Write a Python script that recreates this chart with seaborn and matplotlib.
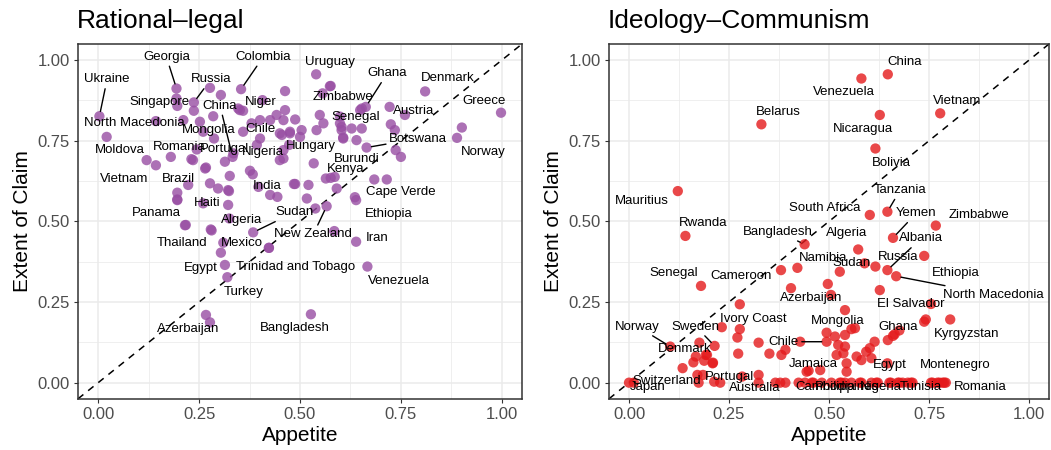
import matplotlib
matplotlib.use("Agg")
import matplotlib.pyplot as plt
from matplotlib.ticker import MultipleLocator, FormatStrFormatter
from matplotlib.transforms import ScaledTranslation
import pandas as pd
import seaborn as sns

# ---------------- Rational-legal legitimation ----------------
rl_countries = [
    "Ukraine", "Georgia", "Colombia", "Russia", "Uruguay", "Ghana", "Denmark",
    "Greece", "Zimbabwe", "Senegal", "Austria", "Botswana", "Norway", "Hungary",
    "Burundi", "Kenya", "Cape Verde", "Ethiopia", "Iran", "Venezuela",
    "Bangladesh", "New Zealand", "Sudan", "Algeria", "Mexico", "Thailand",
    "Egypt", "Turkey", "Trinidad and Tobago", "Azerbaijan", "Panama", "Haiti",
    "India", "Brazil", "Vietnam", "Moldova", "Romania", "Portugal", "Nigeria",
    "Mongolia", "Chile", "Niger", "China", "Singapore", "North Macedonia",
]
rl_appetite = [
    0.003, 0.194, 0.354, 0.237, 0.540, 0.663, 0.810,
    0.998, 0.576, 0.599, 0.760, 0.665, 0.889, 0.473,
    0.586, 0.564, 0.684, 0.639, 0.639, 0.667,
    0.527, 0.566, 0.384, 0.325, 0.310, 0.279,
    0.314, 0.320, 0.423, 0.277, 0.217, 0.260,
    0.397, 0.223, 0.120, 0.021, 0.180, 0.314, 0.376,
    0.260, 0.401, 0.407, 0.333, 0.196, 0.143,
]
rl_claim = [
    0.826, 0.912, 0.910, 0.869, 0.956, 0.855, 0.903,
    0.837, 0.920, 0.825, 0.830, 0.729, 0.759, 0.737,
    0.638, 0.633, 0.630, 0.566, 0.437, 0.360,
    0.212, 0.547, 0.466, 0.509, 0.434, 0.475,
    0.365, 0.327, 0.418, 0.187, 0.489, 0.556,
    0.607, 0.613, 0.690, 0.762, 0.700, 0.685, 0.657,
    0.778, 0.814, 0.876, 0.700, 0.858, 0.811,
]
# countries drawn without a text label
rl_other_appetite = [
    0.277, 0.304, 0.463, 0.194, 0.237, 0.285, 0.252, 0.211, 0.347, 0.359,
    0.463, 0.380, 0.426, 0.442, 0.459, 0.475, 0.455, 0.287, 0.359, 0.244,
    0.143, 0.231, 0.267, 0.326, 0.393, 0.383, 0.277, 0.297, 0.322, 0.324,
    0.426, 0.444, 0.485, 0.196, 0.196, 0.322, 0.459, 0.574, 0.351, 0.488,
    0.549, 0.558, 0.541, 0.603, 0.649, 0.722, 0.725, 0.735, 0.653, 0.628,
    0.607, 0.640, 0.737, 0.750, 0.901, 0.475, 0.504, 0.450, 0.401, 0.459,
    0.450, 0.534, 0.335, 0.235, 0.265, 0.488, 0.521, 0.576, 0.591, 0.517,
    0.636, 0.715, 0.538, 0.585, 0.556, 0.500, 0.599, 0.603, 0.607, 0.653,
    0.215, 0.281, 0.304, 0.267, 0.196, 0.423,
]
rl_other_claim = [
    0.914, 0.892, 0.904, 0.881, 0.843, 0.826, 0.809, 0.814, 0.850, 0.843,
    0.845, 0.804, 0.814, 0.830, 0.814, 0.773, 0.768, 0.757, 0.778, 0.723,
    0.674, 0.693, 0.667, 0.641, 0.737, 0.646, 0.618, 0.602, 0.597, 0.594,
    0.582, 0.576, 0.616, 0.589, 0.568, 0.551, 0.695, 0.919, 0.845, 0.816,
    0.830, 0.804, 0.783, 0.783, 0.845, 0.855, 0.801, 0.783, 0.788, 0.788,
    0.757, 0.752, 0.721, 0.700, 0.791, 0.778, 0.783, 0.773, 0.757, 0.721,
    0.690, 0.680, 0.711, 0.690, 0.664, 0.616, 0.613, 0.635, 0.602, 0.571,
    0.575, 0.630, 0.540, 0.470, 0.897, 0.762, 0.804, 0.793, 0.760, 0.850,
    0.488, 0.472, 0.403, 0.210, 0.566, 0.418,
]

# ---------------- Communist ideology ----------------
ic_countries = [
    "Mauritius", "Rwanda", "Belarus", "China", "Venezuela", "Vietnam",
    "Nicaragua", "Bolivia", "Tanzania", "South Africa", "Yemen", "Zimbabwe",
    "Bangladesh", "Algeria", "Albania", "Russia", "Namibia", "Sudan",
    "Ethiopia", "North Macedonia", "Senegal", "Cameroon", "Azerbaijan",
    "El Salvador", "Mongolia", "Ivory Coast", "Kyrgyzstan", "Ghana", "Norway",
    "Sweden", "Denmark", "Chile", "Jamaica", "Egypt", "Montenegro", "Portugal",
    "Switzerland", "Japan", "Australia", "Cambodia", "Philippines", "Nigeria",
    "Tunisia", "Romania",
]
ic_appetite = [
    0.122, 0.141, 0.331, 0.647, 0.581, 0.778,
    0.627, 0.616, 0.646, 0.602, 0.660, 0.767,
    0.439, 0.573, 0.646, 0.616, 0.527, 0.589,
    0.738, 0.668, 0.180, 0.277, 0.497,
    0.627, 0.540, 0.277, 0.803, 0.660, 0.103,
    0.214, 0.176, 0.494, 0.478, 0.646, 0.771, 0.228,
    0.012, 0.000, 0.324, 0.482, 0.556, 0.622,
    0.709, 0.792,
]
ic_claim = [
    0.594, 0.455, 0.801, 0.956, 0.943, 0.835,
    0.830, 0.726, 0.530, 0.520, 0.449, 0.487,
    0.429, 0.413, 0.349, 0.360, 0.344, 0.370,
    0.393, 0.330, 0.300, 0.243, 0.306,
    0.287, 0.225, 0.166, 0.196, 0.145, 0.112,
    0.114, 0.124, 0.127, 0.039, 0.060, 0.000, 0.000,
    0.000, 0.000, 0.000, 0.000, 0.000, 0.000,
    0.000, 0.000,
]
ic_other_appetite = [
    0.505, 0.755, 0.742, 0.421, 0.380, 0.405, 0.271, 0.324, 0.273, 0.232,
    0.195, 0.167, 0.188, 0.210, 0.161, 0.134, 0.171, 0.185, 0.174, 0.192,
    0.209, 0.283, 0.324, 0.351, 0.381, 0.391, 0.428, 0.494, 0.515, 0.540,
    0.556, 0.565, 0.523, 0.540, 0.536, 0.519, 0.544, 0.544, 0.569, 0.581,
    0.593, 0.602, 0.614, 0.606, 0.647, 0.664, 0.676, 0.449, 0.738, 0.213,
    0.366, 0.378, 0.391, 0.424, 0.440, 0.444, 0.457, 0.461, 0.506, 0.527,
    0.531, 0.540, 0.577, 0.581, 0.606, 0.618, 0.651, 0.655, 0.672, 0.676,
    0.684, 0.697, 0.705, 0.755, 0.759, 0.776, 0.784, 0.788,
]
ic_other_claim = [
    0.272, 0.244, 0.196, 0.356, 0.349, 0.293, 0.140, 0.124, 0.090, 0.172,
    0.086, 0.081, 0.068, 0.062, 0.063, 0.045, 0.024, 0.024, 0.000, 0.086,
    0.060, 0.019, 0.024, 0.090, 0.086, 0.102, 0.127, 0.155, 0.143, 0.148,
    0.166, 0.169, 0.117, 0.112, 0.091, 0.086, 0.060, 0.034, 0.081, 0.070,
    0.096, 0.107, 0.127, 0.076, 0.132, 0.150, 0.162, 0.037, 0.189, 0.003,
    0.000, 0.000, 0.000, 0.000, 0.000, 0.034, 0.000, 0.000, 0.000, 0.000,
    0.000, 0.000, 0.000, 0.000, 0.000, 0.000, 0.000, 0.000, 0.000, 0.000,
    0.000, 0.000, 0.000, 0.000, 0.000, 0.000, 0.000, 0.000,
]

panel_titles = ["Rational\u2013legal", "Ideology\u2013Communism"]
x_label = "Appetite"
y_label = "Extent of Claim"
ticks = [0.0, 0.25, 0.5, 0.75, 1.0]

# ---------------- text placement (data units) ----------------
rl_label_at = {
    "Ukraine": (0.022, 0.940), "Georgia": (0.169, 1.010), "Colombia": (0.409, 1.010),
    "Russia": (0.279, 0.940), "Uruguay": (0.573, 0.995), "Ghana": (0.716, 0.959),
    "Denmark": (0.866, 0.945), "Greece": (0.956, 0.874), "Zimbabwe": (0.607, 0.886),
    "Senegal": (0.638, 0.824), "Austria": (0.782, 0.842), "Botswana": (0.793, 0.757),
    "Norway": (0.954, 0.716), "Hungary": (0.526, 0.733), "Burundi": (0.641, 0.692),
    "Kenya": (0.613, 0.664), "Cape Verde": (0.749, 0.592), "Ethiopia": (0.720, 0.523),
    "Iran": (0.690, 0.447), "Venezuela": (0.745, 0.316), "Bangladesh": (0.488, 0.168),
    "New Zealand": (0.533, 0.460), "Sudan": (0.486, 0.528), "Algeria": (0.355, 0.504),
    "Mexico": (0.357, 0.432), "Thailand": (0.207, 0.432), "Egypt": (0.254, 0.354),
    "Turkey": (0.361, 0.282), "Trinidad and Tobago": (0.490, 0.359),
    "Azerbaijan": (0.224, 0.165), "Panama": (0.145, 0.527), "Haiti": (0.271, 0.558),
    "India": (0.419, 0.611), "Brazil": (0.199, 0.630), "Vietnam": (0.065, 0.630),
    "Moldova": (0.054, 0.721), "Romania": (0.202, 0.731), "Portugal": (0.314, 0.726),
    "Nigeria": (0.409, 0.716), "Mongolia": (0.275, 0.783), "Chile": (0.401, 0.788),
    "Niger": (0.402, 0.869), "China": (0.302, 0.858), "Singapore": (0.151, 0.869),
    "North Macedonia": (0.089, 0.804),
}
rl_leaders = {"Ukraine", "Georgia", "Colombia", "Russia", "Ghana", "China",
              "Botswana", "Sudan", "New Zealand"}

ic_label_at = {
    "Mauritius": (0.033, 0.563), "Rwanda": (0.186, 0.494), "Belarus": (0.373, 0.840),
    "China": (0.689, 0.995), "Venezuela": (0.538, 0.900), "Vietnam": (0.820, 0.874),
    "Nicaragua": (0.586, 0.788), "Bolivia": (0.657, 0.682), "Tanzania": (0.678, 0.597),
    "South Africa": (0.489, 0.540), "Yemen": (0.718, 0.525), "Zimbabwe": (0.876, 0.520),
    "Bangladesh": (0.372, 0.468), "Algeria": (0.544, 0.463), "Albania": (0.730, 0.447),
    "Russia": (0.674, 0.390), "Namibia": (0.486, 0.385), "Sudan": (0.557, 0.370),
    "Ethiopia": (0.817, 0.341), "North Macedonia": (0.910, 0.272),
    "Senegal": (0.111, 0.339), "Cameroon": (0.280, 0.332), "Azerbaijan": (0.455, 0.261),
    "El Salvador": (0.705, 0.244), "Mongolia": (0.522, 0.192),
    "Ivory Coast": (0.311, 0.197), "Kyrgyzstan": (0.843, 0.151), "Ghana": (0.672, 0.172),
    "Norway": (0.021, 0.174), "Sweden": (0.167, 0.174), "Denmark": (0.139, 0.103),
    "Chile": (0.386, 0.127), "Jamaica": (0.461, 0.057), "Egypt": (0.652, 0.055),
    "Montenegro": (0.816, 0.055), "Portugal": (0.251, 0.019),
    "Switzerland": (0.095, 0.006), "Japan": (0.046, -0.014),
    "Australia": (0.314, -0.015), "Cambodia": (0.490, -0.014),
    "Philippines": (0.545, -0.014), "Nigeria": (0.630, -0.014),
    "Tunisia": (0.729, -0.014), "Romania": (0.878, -0.014),
}
ic_leaders = {"Tanzania", "Yemen", "Albania", "North Macedonia", "Bangladesh",
              "Chile", "Norway", "Sweden"}

# ---------------- styling ----------------
sns.set_theme(style="white")
plt.rcParams["font.family"] = ["Liberation Sans", "DejaVu Sans"]

DPI = 100
fig = plt.figure(figsize=(10.51, 4.50), dpi=DPI)
ax_rl = fig.add_axes([78 / 1051, 1 - 398.8 / 450, 444 / 1051, 354.8 / 450])
ax_ic = fig.add_axes([609 / 1051, 1 - 398.8 / 450, 440 / 1051, 354.8 / 450])

panels = [
    (ax_rl, rl_countries, rl_appetite, rl_claim, rl_other_appetite, rl_other_claim,
     rl_label_at, rl_leaders, "#984EA3"),
    (ax_ic, ic_countries, ic_appetite, ic_claim, ic_other_appetite, ic_other_claim,
     ic_label_at, ic_leaders, "#E41A1C"),
]

for (ax, names, app, claim, o_app, o_claim, label_at, leaders, colour), title in zip(
        panels, panel_titles):
    df = pd.DataFrame({
        "Appetite": list(app) + list(o_app),
        "Claim": list(claim) + list(o_claim),
    })
    ax.set_xlim(-0.05, 1.05)
    ax.set_ylim(-0.05, 1.05)

    # grid: major and minor lines like a bw theme
    ax.xaxis.set_major_locator(MultipleLocator(0.25))
    ax.yaxis.set_major_locator(MultipleLocator(0.25))
    ax.xaxis.set_minor_locator(MultipleLocator(0.125))
    ax.yaxis.set_minor_locator(MultipleLocator(0.125))
    ax.grid(which="major", color="#EBEBEB", lw=1.1)
    ax.grid(which="minor", color="#EBEBEB", lw=0.55)
    ax.set_axisbelow(True)
    ax.tick_params(which="minor", length=0)
    ax.tick_params(which="major", length=3.2, width=0.8, color="#333333",
                   labelsize=12, labelcolor="#4D4D4D", pad=2.5,
                   bottom=True, left=True)
    ax.xaxis.set_major_formatter(FormatStrFormatter("%.2f"))
    ax.yaxis.set_major_formatter(FormatStrFormatter("%.2f"))
    for sp in ax.spines.values():
        sp.set_color("#333333")
        sp.set_linewidth(1.1)

    # 45 degree reference line
    ax.plot([-0.05, 1.05], [-0.05, 1.05], color="black", lw=1.1,
            ls=(0, (4.5, 4)), zorder=1)

    sns.scatterplot(data=df, x="Appetite", y="Claim", ax=ax, color=colour,
                    alpha=0.8, s=55, edgecolor="none", linewidth=0, zorder=2,
                    legend=False)

    for name, px, py in zip(names, app, claim):
        tx, ty = label_at[name]
        if name in leaders:
            ax.annotate(name, xy=(px, py), xytext=(tx, ty), ha="center", va="center",
                        fontsize=9.5, color="black", zorder=4,
                        arrowprops=dict(arrowstyle="-", color="black", lw=1.0,
                                        shrinkA=0, shrinkB=3.5))
        else:
            ax.text(tx, ty, name, ha="center", va="center", fontsize=9.5,
                    color="black", zorder=4)

    ax.set_xlabel(x_label, fontsize=15, color="black", labelpad=3)
    ax.set_ylabel(y_label, fontsize=15, color="black", labelpad=4)
    ax.text(0, 1, title, transform=ax.transAxes +
            ScaledTranslation(-1 / DPI, 16 / DPI, fig.dpi_scale_trans),
            ha="left", va="baseline", fontsize=19, color="black")

fig.savefig("out.png", dpi=DPI)
